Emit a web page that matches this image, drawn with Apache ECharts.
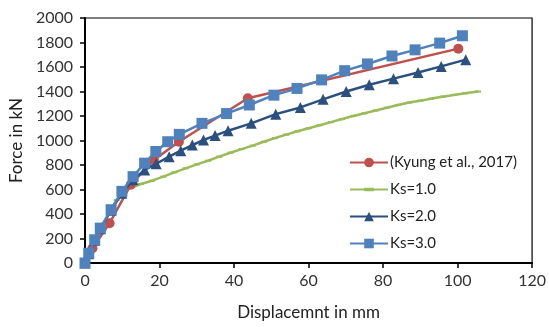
<!DOCTYPE html>
<html>
<head>
<meta charset="utf-8">
<script src="https://cdn.jsdelivr.net/npm/echarts@6/dist/echarts.min.js"></script>
<style>
html,body{margin:0;padding:0;background:#fff;}
#chart{width:549px;height:327px;}
</style>
</head>
<body>
<div id="chart"></div>
<script>
// ---- Data ----
const seriesNames = ['(Kyung et al., 2017)', 'Ks=1.0', 'Ks=2.0', 'Ks=3.0'];

const kyungX = [0, 2, 6.6, 12.3, 18.5, 25.2, 43.7, 100.2];
const kyungY = [0, 120, 325, 640, 840, 990, 1345, 1750];

const ks1X = [0, 1.5, 3, 5, 7, 8.5, 10, 12, 15, 18, 21, 24, 27, 30, 33, 36, 39, 42, 45, 48, 51, 54, 57, 60, 63, 66, 69, 72, 75, 78, 81, 84, 87, 90, 93, 96, 99, 102, 105.5];
const ks1Y = [0, 100, 200, 320, 440, 515, 570, 610, 645, 672, 705, 740, 773, 805, 835, 868, 900, 930, 958, 990, 1020, 1048, 1075, 1100, 1125, 1150, 1175, 1200, 1222, 1245, 1268, 1290, 1310, 1325, 1342, 1358, 1372, 1385, 1400];

const ks2X = [0, 1, 2.6, 4.1, 7, 9.9, 12.9, 16, 19.1, 22.6, 25.7, 28.8, 31.8, 34.9, 38.4, 44.6, 51.2, 57.8, 63.9, 70.1, 76.3, 82.8, 89.4, 95.6, 102.2];
const ks2Y = [0, 75, 185, 280, 430, 570, 680, 760, 810, 868, 917, 963, 1004, 1040, 1080, 1140, 1215, 1270, 1336, 1400, 1455, 1505, 1555, 1605, 1660];

const ks3X = [0, 1, 2.6, 4.1, 7, 9.9, 12.9, 16, 19, 22.2, 25.3, 31.4, 38, 44.1, 50.7, 56.9, 63.5, 69.7, 75.8, 82.4, 88.6, 95.2, 101.3];
const ks3Y = [0, 80, 190, 285, 435, 585, 705, 815, 910, 990, 1050, 1140, 1220, 1290, 1370, 1425, 1495, 1570, 1625, 1690, 1740, 1795, 1855];

const xTicks = {min: 0, max: 120, interval: 20};
const yTicks = {min: 0, max: 2000, interval: 200};

function pairs(xs, ys) { return xs.map((x, i) => [x, ys[i]]); }

const FONT = 'Lato, "Open Sans", sans-serif';
// dash marker inside a square bounding box (so legend keeps it flat)
const DASH = 'path://M0,0M10,10M0,3.2H10V6.8H0Z';
const chart = echarts.init(document.getElementById('chart'), null, {renderer: 'canvas'});

chart.setOption({
  animation: false,
  backgroundColor: '#fff',
  grid: {left: 80, top: 18, right: 12.5, bottom: 64, show: true, borderColor: '#000', borderWidth: 1.2, containLabel: false},
  legend: {
    orient: 'vertical',
    left: 344, top: 150,
    itemWidth: 38, itemHeight: 12, itemGap: 12,
    textStyle: {fontFamily: FONT, fontSize: 15, color: '#222', padding: [0, 0, 0, -3]},
    data: seriesNames
  },
  xAxis: {
    type: 'value', min: xTicks.min, max: xTicks.max, interval: xTicks.interval,
    name: 'Displacemnt in mm', nameLocation: 'middle', nameGap: 41,
    nameTextStyle: {fontFamily: FONT, fontSize: 17, color: '#222'},
    axisLine: {show: true, onZero: false, lineStyle: {color: '#000', width: 2}},
    axisTick: {show: true, inside: false, length: 5, lineStyle: {color: '#000', width: 1.5}},
    axisLabel: {fontFamily: FONT, fontSize: 16, color: '#333', margin: 10},
    splitLine: {show: false}
  },
  yAxis: {
    type: 'value', min: yTicks.min, max: yTicks.max, interval: yTicks.interval,
    name: 'Force in kN', nameLocation: 'middle', nameGap: 58, nameRotate: 90,
    nameTextStyle: {fontFamily: FONT, fontSize: 17, color: '#222'},
    axisLine: {show: true, onZero: false, lineStyle: {color: '#000', width: 2}},
    axisTick: {show: true, inside: false, length: 5, lineStyle: {color: '#000', width: 1.5}},
    axisLabel: {fontFamily: FONT, fontSize: 16, color: '#333', margin: 12, formatter: v => String(v)},
    splitLine: {show: false}
  },
  series: [
    {
      name: seriesNames[0], type: 'line', data: pairs(kyungX, kyungY),
      symbol: 'circle', symbolSize: 10, z: 3,
      lineStyle: {color: '#C0504D', width: 2.5}, itemStyle: {color: '#C0504D'}
    },
    {
      name: seriesNames[1], type: 'line', data: pairs(ks1X, ks1Y),
      symbol: DASH, symbolSize: 6, z: 2,
      lineStyle: {color: '#9BBB59', width: 2.5}, itemStyle: {color: '#9BBB59'}
    },
    {
      name: seriesNames[2], type: 'line', data: pairs(ks2X, ks2Y),
      symbol: 'triangle', symbolSize: 11, z: 4,
      lineStyle: {color: '#2B4F7E', width: 2.5}, itemStyle: {color: '#2B4F7E'}
    },
    {
      name: seriesNames[3], type: 'line', data: pairs(ks3X, ks3Y),
      symbol: 'rect', symbolSize: 11, z: 5,
      lineStyle: {color: '#4F81BD', width: 2.5}, itemStyle: {color: '#4F81BD'}
    }
  ]
});
</script>
</body>
</html>
